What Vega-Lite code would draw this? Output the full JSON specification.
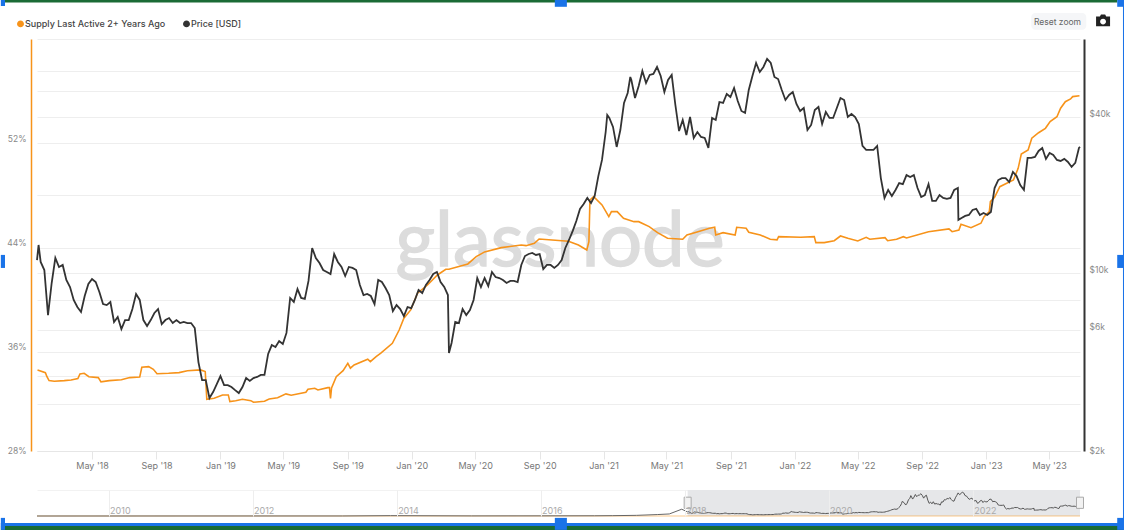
{"$schema":"https://vega.github.io/schema/vega-lite/v6.json","padding":0,"background":"white","bounds":"flush","spacing":39,"config":{"view":{"stroke":null},"font":"Inter"},
"datasets":{
"supply":[{"date":"2018-01-17","pct":34.62},{"date":"2018-02-01","pct":34.41},{"date":"2018-02-04","pct":34.10},{"date":"2018-02-08","pct":33.80},{"date":"2018-02-18","pct":33.75},{"date":"2018-03-09","pct":33.80},{"date":"2018-03-22","pct":33.85},{"date":"2018-04-04","pct":33.95},{"date":"2018-04-08","pct":34.31},{"date":"2018-04-16","pct":34.36},{"date":"2018-04-25","pct":34.10},{"date":"2018-05-13","pct":34.03},{"date":"2018-05-18","pct":33.70},{"date":"2018-06-03","pct":33.80},{"date":"2018-06-26","pct":33.87},{"date":"2018-07-12","pct":34.03},{"date":"2018-07-31","pct":34.08},{"date":"2018-08-04","pct":34.82},{"date":"2018-08-17","pct":34.87},{"date":"2018-08-26","pct":34.67},{"date":"2018-09-02","pct":34.33},{"date":"2018-09-24","pct":34.36},{"date":"2018-10-14","pct":34.41},{"date":"2018-10-30","pct":34.56},{"date":"2018-11-24","pct":34.62},{"date":"2018-12-03","pct":34.49},{"date":"2018-12-06","pct":32.37},{"date":"2018-12-20","pct":32.45},{"date":"2019-01-05","pct":32.70},{"date":"2019-01-16","pct":32.70},{"date":"2019-01-19","pct":32.19},{"date":"2019-01-30","pct":32.26},{"date":"2019-02-12","pct":32.37},{"date":"2019-02-28","pct":32.26},{"date":"2019-03-05","pct":32.14},{"date":"2019-03-26","pct":32.22},{"date":"2019-04-04","pct":32.39},{"date":"2019-04-20","pct":32.49},{"date":"2019-05-06","pct":32.78},{"date":"2019-05-16","pct":32.68},{"date":"2019-06-13","pct":32.91},{"date":"2019-06-17","pct":33.14},{"date":"2019-06-30","pct":33.21},{"date":"2019-07-06","pct":33.08},{"date":"2019-07-25","pct":33.26},{"date":"2019-07-28","pct":33.27},{"date":"2019-07-30","pct":32.43},{"date":"2019-08-01","pct":33.24},{"date":"2019-08-10","pct":34.10},{"date":"2019-08-23","pct":34.56},{"date":"2019-09-01","pct":35.13},{"date":"2019-09-06","pct":34.75},{"date":"2019-09-13","pct":35.00},{"date":"2019-10-09","pct":35.44},{"date":"2019-10-14","pct":35.25},{"date":"2019-10-25","pct":35.64},{"date":"2019-11-03","pct":35.90},{"date":"2019-11-25","pct":36.66},{"date":"2019-12-08","pct":37.68},{"date":"2019-12-17","pct":38.58},{"date":"2019-12-30","pct":39.22},{"date":"2020-01-12","pct":40.50},{"date":"2020-01-31","pct":41.13},{"date":"2020-02-19","pct":41.90},{"date":"2020-03-06","pct":42.34},{"date":"2020-03-12","pct":42.34},{"date":"2020-04-17","pct":42.75},{"date":"2020-05-03","pct":43.31},{"date":"2020-05-19","pct":43.67},{"date":"2020-06-20","pct":44.00},{"date":"2020-07-28","pct":44.20},{"date":"2020-08-06","pct":44.15},{"date":"2020-08-22","pct":44.33},{"date":"2020-08-31","pct":44.66},{"date":"2020-10-26","pct":44.49},{"date":"2020-11-14","pct":44.20},{"date":"2020-11-30","pct":43.82},{"date":"2020-12-04","pct":44.45},{"date":"2020-12-06","pct":47.65},{"date":"2020-12-13","pct":47.91},{"date":"2020-12-29","pct":47.27},{"date":"2021-01-11","pct":46.37},{"date":"2021-01-16","pct":46.76},{"date":"2021-01-27","pct":46.76},{"date":"2021-02-08","pct":46.25},{"date":"2021-02-28","pct":45.99},{"date":"2021-03-09","pct":45.99},{"date":"2021-03-29","pct":45.61},{"date":"2021-04-14","pct":45.15},{"date":"2021-05-03","pct":44.72},{"date":"2021-06-01","pct":44.64},{"date":"2021-06-09","pct":44.97},{"date":"2021-06-30","pct":45.22},{"date":"2021-07-22","pct":45.48},{"date":"2021-08-01","pct":45.56},{"date":"2021-08-03","pct":44.97},{"date":"2021-08-17","pct":45.15},{"date":"2021-09-09","pct":44.97},{"date":"2021-09-12","pct":45.56},{"date":"2021-09-30","pct":45.48},{"date":"2021-10-05","pct":45.18},{"date":"2021-10-27","pct":44.97},{"date":"2021-11-15","pct":44.64},{"date":"2021-11-28","pct":44.59},{"date":"2021-12-01","pct":44.84},{"date":"2022-01-12","pct":44.79},{"date":"2022-02-07","pct":44.84},{"date":"2022-02-10","pct":44.38},{"date":"2022-02-26","pct":44.38},{"date":"2022-03-17","pct":44.53},{"date":"2022-03-29","pct":44.89},{"date":"2022-04-12","pct":44.72},{"date":"2022-05-01","pct":44.51},{"date":"2022-05-17","pct":44.79},{"date":"2022-05-24","pct":44.64},{"date":"2022-06-22","pct":44.76},{"date":"2022-06-27","pct":44.53},{"date":"2022-07-14","pct":44.64},{"date":"2022-07-27","pct":44.84},{"date":"2022-08-02","pct":44.74},{"date":"2022-09-13","pct":45.22},{"date":"2022-10-22","pct":45.43},{"date":"2022-10-28","pct":45.22},{"date":"2022-11-10","pct":45.35},{"date":"2022-11-14","pct":45.79},{"date":"2022-12-03","pct":45.53},{"date":"2022-12-22","pct":45.87},{"date":"2022-12-28","pct":46.37},{"date":"2023-01-07","pct":46.76},{"date":"2023-01-09","pct":47.52},{"date":"2023-01-17","pct":47.86},{"date":"2023-01-27","pct":48.67},{"date":"2023-02-22","pct":49.19},{"date":"2023-03-03","pct":50.08},{"date":"2023-03-09","pct":51.18},{"date":"2023-03-22","pct":51.49},{"date":"2023-03-29","pct":52.39},{"date":"2023-04-11","pct":52.81},{"date":"2023-04-24","pct":53.15},{"date":"2023-05-03","pct":53.66},{"date":"2023-05-16","pct":54.04},{"date":"2023-05-23","pct":54.69},{"date":"2023-06-01","pct":55.19},{"date":"2023-06-11","pct":55.40},{"date":"2023-06-15","pct":55.58},{"date":"2023-06-28","pct":55.65}],
"price":[{"date":"2018-01-16","price":11220},{"date":"2018-01-19","price":12830},{"date":"2018-01-23","price":11030},{"date":"2018-01-30","price":10270},{"date":"2018-02-06","price":6880},{"date":"2018-02-13","price":9150},{"date":"2018-02-20","price":11430},{"date":"2018-02-27","price":10550},{"date":"2018-03-06","price":10740},{"date":"2018-03-13","price":9400},{"date":"2018-03-20","price":8830},{"date":"2018-03-27","price":7870},{"date":"2018-04-03","price":7390},{"date":"2018-04-10","price":7070},{"date":"2018-04-17","price":8150},{"date":"2018-04-24","price":9070},{"date":"2018-05-01","price":9480},{"date":"2018-05-08","price":9230},{"date":"2018-05-15","price":8450},{"date":"2018-05-22","price":7590},{"date":"2018-05-29","price":7520},{"date":"2018-06-05","price":7730},{"date":"2018-06-12","price":6470},{"date":"2018-06-19","price":6760},{"date":"2018-06-26","price":6080},{"date":"2018-07-03","price":6580},{"date":"2018-07-10","price":6580},{"date":"2018-07-17","price":7260},{"date":"2018-07-24","price":8300},{"date":"2018-07-31","price":7870},{"date":"2018-08-07","price":6580},{"date":"2018-08-14","price":6240},{"date":"2018-08-21","price":6580},{"date":"2018-08-28","price":7010},{"date":"2018-09-04","price":7260},{"date":"2018-09-11","price":6350},{"date":"2018-09-18","price":6580},{"date":"2018-09-25","price":6700},{"date":"2018-10-02","price":6410},{"date":"2018-10-09","price":6580},{"date":"2018-10-16","price":6410},{"date":"2018-10-23","price":6470},{"date":"2018-10-30","price":6410},{"date":"2018-11-06","price":6410},{"date":"2018-11-13","price":6130},{"date":"2018-11-20","price":4530},{"date":"2018-11-27","price":3860},{"date":"2018-12-04","price":3860},{"date":"2018-12-11","price":3290},{"date":"2018-12-18","price":3470},{"date":"2018-12-25","price":3720},{"date":"2019-01-01","price":4000},{"date":"2019-01-08","price":3690},{"date":"2019-01-15","price":3690},{"date":"2019-01-22","price":3630},{"date":"2019-01-29","price":3530},{"date":"2019-02-05","price":3440},{"date":"2019-02-12","price":3630},{"date":"2019-02-19","price":3930},{"date":"2019-02-26","price":3830},{"date":"2019-03-05","price":3930},{"date":"2019-03-12","price":3970},{"date":"2019-03-19","price":4040},{"date":"2019-03-26","price":4040},{"date":"2019-04-02","price":4870},{"date":"2019-04-09","price":5270},{"date":"2019-04-16","price":5180},{"date":"2019-04-23","price":5460},{"date":"2019-04-30","price":5320},{"date":"2019-05-07","price":5870},{"date":"2019-05-14","price":8010},{"date":"2019-05-21","price":7730},{"date":"2019-05-28","price":8670},{"date":"2019-06-04","price":8010},{"date":"2019-06-11","price":7940},{"date":"2019-06-18","price":9320},{"date":"2019-06-25","price":12490},{"date":"2019-07-02","price":11430},{"date":"2019-07-09","price":10930},{"date":"2019-07-16","price":10270},{"date":"2019-07-23","price":10090},{"date":"2019-07-30","price":9910},{"date":"2019-08-06","price":11840},{"date":"2019-08-13","price":11030},{"date":"2019-08-20","price":10550},{"date":"2019-08-27","price":9740},{"date":"2019-09-03","price":10550},{"date":"2019-09-10","price":10460},{"date":"2019-09-17","price":10270},{"date":"2019-09-24","price":8990},{"date":"2019-10-01","price":8220},{"date":"2019-10-08","price":8300},{"date":"2019-10-15","price":8150},{"date":"2019-10-22","price":7590},{"date":"2019-10-29","price":9400},{"date":"2019-11-05","price":9230},{"date":"2019-11-12","price":8750},{"date":"2019-11-19","price":8220},{"date":"2019-11-26","price":7130},{"date":"2019-12-03","price":7520},{"date":"2019-12-10","price":7260},{"date":"2019-12-17","price":6820},{"date":"2019-12-24","price":7390},{"date":"2019-12-31","price":7320},{"date":"2020-01-07","price":7870},{"date":"2020-01-14","price":8600},{"date":"2020-01-21","price":8370},{"date":"2020-01-28","price":8990},{"date":"2020-02-04","price":9400},{"date":"2020-02-11","price":9910},{"date":"2020-02-18","price":10090},{"date":"2020-02-25","price":9230},{"date":"2020-03-03","price":8830},{"date":"2020-03-10","price":8220},{"date":"2020-03-12","price":4910},{"date":"2020-03-17","price":5370},{"date":"2020-03-24","price":6470},{"date":"2020-03-31","price":6410},{"date":"2020-04-07","price":7260},{"date":"2020-04-14","price":6880},{"date":"2020-04-21","price":7200},{"date":"2020-04-28","price":7870},{"date":"2020-05-05","price":9565},{"date":"2020-05-12","price":8830},{"date":"2020-05-19","price":9565},{"date":"2020-05-26","price":8910},{"date":"2020-06-02","price":10090},{"date":"2020-06-09","price":9650},{"date":"2020-06-16","price":9565},{"date":"2020-06-23","price":9400},{"date":"2020-06-30","price":9150},{"date":"2020-07-07","price":9320},{"date":"2020-07-14","price":9320},{"date":"2020-07-21","price":9230},{"date":"2020-07-28","price":10740},{"date":"2020-08-04","price":11630},{"date":"2020-08-11","price":11840},{"date":"2020-08-18","price":11950},{"date":"2020-08-25","price":11740},{"date":"2020-09-01","price":11840},{"date":"2020-09-08","price":10360},{"date":"2020-09-15","price":10740},{"date":"2020-09-22","price":10740},{"date":"2020-09-29","price":10460},{"date":"2020-10-06","price":10740},{"date":"2020-10-13","price":11220},{"date":"2020-10-20","price":12490},{"date":"2020-10-27","price":13410},{"date":"2020-11-03","price":14520},{"date":"2020-11-10","price":15880},{"date":"2020-11-17","price":17680},{"date":"2020-11-24","price":18480},{"date":"2020-12-01","price":19490},{"date":"2020-12-08","price":18640},{"date":"2020-12-15","price":19840},{"date":"2020-12-22","price":23670},{"date":"2020-12-29","price":27320},{"date":"2021-01-05","price":35020},{"date":"2021-01-08","price":40750},{"date":"2021-01-12","price":39680},{"date":"2021-01-19","price":36630},{"date":"2021-01-26","price":30670},{"date":"2021-02-02","price":35650},{"date":"2021-02-09","price":45330},{"date":"2021-02-16","price":49540},{"date":"2021-02-21","price":57130},{"date":"2021-02-23","price":55620},{"date":"2021-03-02","price":47390},{"date":"2021-03-09","price":52720},{"date":"2021-03-16","price":60250},{"date":"2021-03-23","price":54140},{"date":"2021-03-30","price":58150},{"date":"2021-04-06","price":58670},{"date":"2021-04-13","price":62430},{"date":"2021-04-20","price":57640},{"date":"2021-04-27","price":49980},{"date":"2021-05-04","price":55620},{"date":"2021-05-11","price":58150},{"date":"2021-05-18","price":44530},{"date":"2021-05-25","price":35330},{"date":"2021-06-01","price":38980},{"date":"2021-06-08","price":34110},{"date":"2021-06-15","price":40030},{"date":"2021-06-22","price":33210},{"date":"2021-06-29","price":35020},{"date":"2021-07-06","price":33510},{"date":"2021-07-13","price":33210},{"date":"2021-07-20","price":30400},{"date":"2021-07-27","price":39680},{"date":"2021-08-03","price":38980},{"date":"2021-08-10","price":45730},{"date":"2021-08-17","price":45330},{"date":"2021-08-24","price":49100},{"date":"2021-08-31","price":47810},{"date":"2021-09-07","price":51800},{"date":"2021-09-14","price":46140},{"date":"2021-09-21","price":42220},{"date":"2021-09-28","price":41480},{"date":"2021-10-05","price":50890},{"date":"2021-10-12","price":57640},{"date":"2021-10-19","price":64700},{"date":"2021-10-26","price":59720},{"date":"2021-11-02","price":62430},{"date":"2021-11-09","price":67040},{"date":"2021-11-16","price":64700},{"date":"2021-11-23","price":57130},{"date":"2021-11-30","price":56100},{"date":"2021-12-07","price":50890},{"date":"2021-12-14","price":46560},{"date":"2021-12-21","price":48670},{"date":"2021-12-28","price":49980},{"date":"2022-01-04","price":44930},{"date":"2022-01-11","price":42220},{"date":"2022-01-18","price":43360},{"date":"2022-01-25","price":35650},{"date":"2022-02-01","price":37280},{"date":"2022-02-08","price":42600},{"date":"2022-02-15","price":43750},{"date":"2022-02-22","price":37610},{"date":"2022-03-01","price":41850},{"date":"2022-03-08","price":39680},{"date":"2022-03-15","price":39680},{"date":"2022-03-22","price":43360},{"date":"2022-03-29","price":47390},{"date":"2022-04-05","price":46560},{"date":"2022-04-12","price":40030},{"date":"2022-04-19","price":41110},{"date":"2022-04-26","price":40030},{"date":"2022-05-03","price":37610},{"date":"2022-05-10","price":30940},{"date":"2022-05-17","price":29860},{"date":"2022-05-24","price":29860},{"date":"2022-05-31","price":29860},{"date":"2022-06-07","price":30940},{"date":"2022-06-14","price":23250},{"date":"2022-06-21","price":19490},{"date":"2022-06-28","price":20920},{"date":"2022-07-05","price":19840},{"date":"2022-07-12","price":20920},{"date":"2022-07-19","price":22250},{"date":"2022-07-26","price":22050},{"date":"2022-08-02","price":23880},{"date":"2022-08-09","price":23460},{"date":"2022-08-16","price":23880},{"date":"2022-08-23","price":21290},{"date":"2022-08-30","price":19660},{"date":"2022-09-06","price":20000},{"date":"2022-09-13","price":22050},{"date":"2022-09-20","price":18980},{"date":"2022-09-27","price":18980},{"date":"2022-10-04","price":20000},{"date":"2022-10-11","price":19490},{"date":"2022-10-18","price":19320},{"date":"2022-10-25","price":19490},{"date":"2022-11-01","price":20920},{"date":"2022-11-08","price":21290},{"date":"2022-11-09","price":16040},{"date":"2022-11-15","price":16320},{"date":"2022-11-22","price":16610},{"date":"2022-11-29","price":16750},{"date":"2022-12-06","price":17520},{"date":"2022-12-13","price":17680},{"date":"2022-12-20","price":16750},{"date":"2022-12-27","price":17050},{"date":"2023-01-03","price":16750},{"date":"2023-01-10","price":17210},{"date":"2023-01-17","price":21290},{"date":"2023-01-24","price":22850},{"date":"2023-01-31","price":23250},{"date":"2023-02-07","price":23250},{"date":"2023-02-14","price":22440},{"date":"2023-02-21","price":24540},{"date":"2023-02-28","price":23670},{"date":"2023-03-07","price":21860},{"date":"2023-03-14","price":20920},{"date":"2023-03-21","price":27810},{"date":"2023-03-28","price":27810},{"date":"2023-04-04","price":28060},{"date":"2023-04-11","price":29600},{"date":"2023-04-18","price":30400},{"date":"2023-04-25","price":27570},{"date":"2023-05-02","price":29070},{"date":"2023-05-09","price":28560},{"date":"2023-05-16","price":27320},{"date":"2023-05-23","price":27080},{"date":"2023-05-30","price":27570},{"date":"2023-06-06","price":26840},{"date":"2023-06-13","price":25680},{"date":"2023-06-20","price":26610},{"date":"2023-06-27","price":30400},{"date":"2023-06-29","price":30670}],
"early":[{"date":"2009-01-03","price":0},{"date":"2013-04-01","price":130},{"date":"2013-12-01","price":1000},{"date":"2015-01-15","price":300},{"date":"2016-01-01","price":430},{"date":"2016-10-01","price":620},{"date":"2017-01-01","price":1000},{"date":"2017-05-01","price":1800},{"date":"2017-08-15","price":4000},{"date":"2017-10-15","price":5700},{"date":"2017-12-17","price":19000},{"date":"2018-01-16","price":11220}],
"navSupply":[{"date":"2009-01-03","pct":0},{"date":"2023-06-29","pct":55}]
},
"vconcat":[
{"width":1043,"height":412,"resolve":{"scale":{"y":"independent"}},"layer":[
{"layer":[
{"data":{"values":[{"date":"2020-10-10","pct":42.6,"word":"glassnode"}]},"mark":{"type":"text","font":"Lato","fontSize":76,"color":"#dcdcdc","stroke":"#dcdcdc","strokeWidth":1.5,"baseline":"alphabetic","align":"center"},"encoding":{"x":{"field":"date","type":"temporal"},"y":{"field":"pct","type":"quantitative"},"text":{"field":"word"}}},
{"data":{"name":"supply"},"mark":{"type":"line","strokeWidth":1.6},"encoding":{"x":{"field":"date","type":"temporal","title":null,"scale":{"type":"utc","domain":[{"year":2018,"month":1,"date":16,"utc":true},{"year":2023,"month":6,"date":29,"utc":true}]},"axis":{"format":"%b '%y","values":[{"year":2018,"month":5,"date":1,"utc":true},{"year":2018,"month":9,"date":1,"utc":true},{"year":2019,"month":1,"date":1,"utc":true},{"year":2019,"month":5,"date":1,"utc":true},{"year":2019,"month":9,"date":1,"utc":true},{"year":2020,"month":1,"date":1,"utc":true},{"year":2020,"month":5,"date":1,"utc":true},{"year":2020,"month":9,"date":1,"utc":true},{"year":2021,"month":1,"date":1,"utc":true},{"year":2021,"month":5,"date":1,"utc":true},{"year":2021,"month":9,"date":1,"utc":true},{"year":2022,"month":1,"date":1,"utc":true},{"year":2022,"month":5,"date":1,"utc":true},{"year":2022,"month":9,"date":1,"utc":true},{"year":2023,"month":1,"date":1,"utc":true},{"year":2023,"month":5,"date":1,"utc":true}],"grid":false,"domainColor":"#e6e6e6","tickColor":"#e6e6e6","tickSize":8,"labelFont":"Inter","labelFontSize":9,"labelColor":"#777777","labelPadding":2,"labelOverlap":false,"labelFlush":false}},
"y":{"field":"pct","type":"quantitative","title":null,"scale":{"domain":[28.4,60],"nice":false,"zero":false},"axis":{"offset":6,"values":[28.4,32,36,40,44,48,52,56,60],"labelExpr":"datum.value<30?'28%':(datum.value==36||datum.value==44||datum.value==52)?datum.value+'%':''","gridColor":"#eeeeee","grid":true,"ticks":false,"domainColor":"#f7931a","domainWidth":1.5,"labelFont":"Inter","labelFontSize":8.5,"labelColor":"#888888","labelPadding":5,"labelOverlap":false,"labelBound":false,"labelOffset":{"condition":{"test":"datum.value<30","value":-1},"value":-5}}},
"color":{"datum":"Supply Last Active 2+ Years Ago","scale":{"domain":["Supply Last Active 2+ Years Ago","Price [USD]"],"range":["#f7931a","#333333"]},"legend":{"orient":"none","legendX":-21,"legendY":-20,"direction":"horizontal","title":null,"symbolType":"circle","symbolSize":12,"symbolStrokeWidth":3.5,"labelFont":"Inter","labelFontSize":9,"labelFontWeight":500,"labelColor":"#444444","columnPadding":11,"labelOffset":0}}}},
{"data":{"values":[{"start":"2023-03-28","end":"2023-07-11","top":62.0,"bottom":60.7}],"format":{"parse":{"start":"date","end":"date"}}},"mark":{"type":"rect","fill":"#f5f6f8","cornerRadius":4},"encoding":{"x":{"field":"start","type":"temporal"},"x2":{"field":"end"},"y":{"field":"top","type":"quantitative"},"y2":{"field":"bottom"}}},
{"data":{"values":[{"date":"2023-05-17","pct":61.34,"label":"Reset zoom"}]},"mark":{"type":"text","font":"Inter","fontSize":8.5,"color":"#666666"},"encoding":{"x":{"field":"date","type":"temporal"},"y":{"field":"pct","type":"quantitative"},"text":{"field":"label"}}},
{"data":{"values":[{"date":"2023-08-12","pct":61.4}]},"mark":{"type":"point","filled":true,"fill":"#222222","opacity":1,"size":196,"shape":"M-1,-0.6 L-0.45,-0.6 L-0.3,-0.9 L0.3,-0.9 L0.45,-0.6 L1,-0.6 L1,0.8 L-1,0.8 Z M0,-0.3 A0.42,0.42 0 1 0 0,0.54 A0.42,0.42 0 1 0 0,-0.3 Z"},"encoding":{"x":{"field":"date","type":"temporal"},"y":{"field":"pct","type":"quantitative"}}},
{"data":{"values":[{"start":"2017-11-14","end":"2023-09-08","top":62.99,"bottom":62.8},{"start":"2017-11-08","end":"2023-09-19","top":22.65,"bottom":22.35}],"format":{"parse":{"start":"date","end":"date"}}},"mark":{"type":"rect","fill":"#1a6b35"},"encoding":{"x":{"field":"start","type":"temporal"},"x2":{"field":"end"},"y":{"field":"top","type":"quantitative"},"y2":{"field":"bottom"}}},
{"data":{"values":[{"start":"2017-11-08","end":"2023-09-23","top":22.88,"bottom":22.65},{"start":"2023-09-19","end":"2023-09-22","top":62.99,"bottom":22.35},{"start":"2017-11-08","end":"2017-11-16","top":62.99,"bottom":62.53},{"start":"2017-11-08","end":"2017-11-16","top":43.44,"bottom":42.44},{"start":"2017-11-08","end":"2017-11-16","top":23.27,"bottom":22.35},{"start":"2020-09-30","end":"2020-10-23","top":62.99,"bottom":62.47},{"start":"2020-09-30","end":"2020-10-23","top":23.27,"bottom":22.35},{"start":"2023-09-08","end":"2023-09-23","top":62.99,"bottom":62.47},{"start":"2023-09-08","end":"2023-09-23","top":43.44,"bottom":42.44},{"start":"2023-09-08","end":"2023-09-23","top":23.27,"bottom":22.35}],"format":{"parse":{"start":"date","end":"date"}}},"mark":{"type":"rect","fill":"#1a73e8"},"encoding":{"x":{"field":"start","type":"temporal"},"x2":{"field":"end"},"y":{"field":"top","type":"quantitative"},"y2":{"field":"bottom"}}}
]},
{"data":{"name":"price"},"mark":{"type":"line","strokeWidth":1.8},"encoding":{"x":{"field":"date","type":"temporal"},"y":{"field":"price","type":"quantitative","title":null,"scale":{"type":"log","domain":[2055,80060],"nice":false},"axis":{"orient":"right","offset":4,"values":[2055,4000,6000,10000,20000,40000,60000],"labelExpr":"datum.value<3000?'$2k':datum.value==6000?'$6k':datum.value==10000?'$10k':datum.value==40000?'$40k':''","gridColor":"#eeeeee","grid":true,"ticks":false,"domainColor":"#333333","domainWidth":2,"labelFont":"Inter","labelFontSize":8.5,"labelColor":"#888888","labelPadding":5,"labelOverlap":false,"labelBound":false,"labelOffset":{"condition":{"test":"datum.value<3000","value":-1},"value":-4}}},"color":{"datum":"Price [USD]"}}}
]},
{"width":1043,"height":26,"layer":[
{"data":{"values":[{"start":"2018-01-16","end":"2023-06-29","top":72800,"bottom":0}],"format":{"parse":{"start":"date","end":"date"}}},"mark":{"type":"rect","fill":"#e6e7e9"},"encoding":{"x":{"field":"start","type":"temporal","title":null,"scale":{"type":"utc","domain":[{"year":2009,"month":1,"date":3,"utc":true},{"year":2023,"month":6,"date":29,"utc":true}]},"axis":{"format":"%Y","values":[{"year":2010,"month":1,"date":1,"utc":true},{"year":2012,"month":1,"date":1,"utc":true},{"year":2014,"month":1,"date":1,"utc":true},{"year":2016,"month":1,"date":1,"utc":true},{"year":2018,"month":1,"date":1,"utc":true},{"year":2020,"month":1,"date":1,"utc":true},{"year":2022,"month":1,"date":1,"utc":true}],"grid":true,"gridColor":"#eeeeee","domain":false,"ticks":false,"labelAlign":"left","labelBaseline":"middle","labelOffset":1,"labelPadding":-6,"labelFont":"Inter","labelFontSize":9,"labelColor":"#aaaaaa","labelOverlap":false,"zindex":1}},"x2":{"field":"end"},"y":{"field":"top","type":"quantitative","title":null,"scale":{"domain":[0,72800],"nice":false},"axis":{"values":[72800],"grid":true,"gridColor":"#f2f2f2","labels":false,"ticks":false,"domain":false}},"y2":{"field":"bottom"}}},
{"data":{"name":"navSupply"},"mark":{"type":"line","color":"#f7931a","opacity":0.5,"strokeWidth":1.2},"encoding":{"x":{"field":"date","type":"temporal"},"y":{"field":"pct","type":"quantitative"}}},
{"data":{"name":"early"},"mark":{"type":"line","color":"#666666","strokeWidth":1},"encoding":{"x":{"field":"date","type":"temporal"},"y":{"field":"price","type":"quantitative"}}},
{"data":{"name":"price"},"mark":{"type":"line","color":"#555555","strokeWidth":1},"encoding":{"x":{"field":"date","type":"temporal"},"y":{"field":"price","type":"quantitative"}}},
{"data":{"values":[{"date":"2018-01-16","price":37000},{"date":"2023-06-29","price":37000}]},"mark":{"type":"point","filled":true,"fill":"#f2f2f2","stroke":"#aaaaaa","strokeWidth":1,"opacity":1,"size":196,"shape":"M-0.5,-0.8 L0.5,-0.8 L0.5,0.8 L-0.5,0.8 Z"},"encoding":{"x":{"field":"date","type":"temporal"},"y":{"field":"price","type":"quantitative"}}}
]}
]}
